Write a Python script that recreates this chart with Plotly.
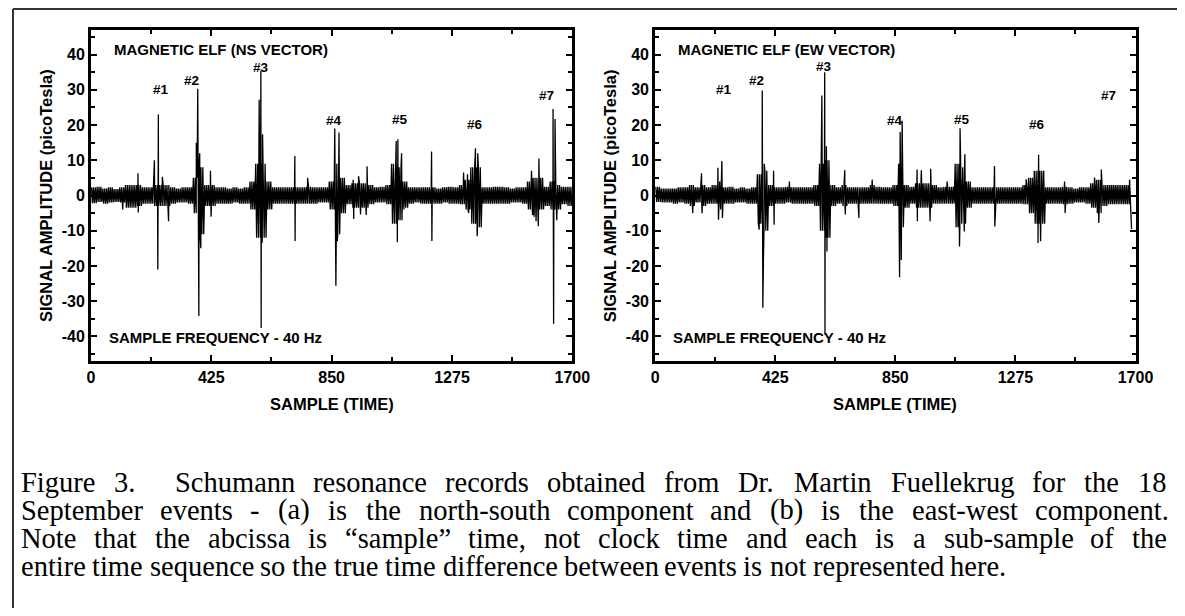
import plotly.graph_objects as go

# page pixel -> figure pixel calibration (body margin plus the observed horizontal scale)
OFFX, OFFY = 8.9, 8
SCALE_X = 0.983
W, H = 1196, 600

# ---------------- data ----------------
BIN = 20  # samples per envelope bin (background noise band)

ns_hi = [2.3, 2.5, 2, 2.3, 1.8, 2.3, 3, 3, 3, 2.3,
         2.3, 3, 3, 3, 2.3, 2, 2.3, 2.3, 5, 8,
         3, 3, 2.3, 2.3, 2, 2.3, 2, 2.3, 4, 9,
         9, 4, 2.3, 2.3, 2.3, 2.3, 2.3, 2.3, 2.5, 2.3,
         2.3, 2.3, 4, 9, 5, 3, 3.5, 3.5, 3.5, 3,
         2.3, 2.5, 3, 9, 8, 4, 2.3, 2.3, 2.3, 2.3,
         2.3, 2, 2.3, 2.5, 2.3, 3, 4.5, 8, 8, 2.3,
         2.3, 2.5, 2.5, 2.3, 2, 2.3, 2.3, 4, 5, 5,
         2.5, 4, 3, 2.5, 2.5]
ns_lo = [-2.2, -1.8, -2.3, -2, -1.8, -2, -3.5, -3.5, -3, -2.3,
         -2.3, -3, -3, -3, -2.3, -2, -2, -2.3, -5, -11,
         -3, -3, -2.3, -2.3, -2.3, -2, -2.3, -2.3, -4, -12,
         -12, -4, -2.3, -2.3, -2.3, -2.3, -2.3, -2.3, -2.3, -2.3,
         -2, -2, -4, -11, -5, -2.5, -3.5, -3.5, -3.5, -2.5,
         -2, -2, -2.5, -8, -7, -3.5, -2.3, -2, -2.3, -2.3,
         -2.3, -2.3, -2, -2.3, -2.3, -2.5, -4, -8, -9, -2.3,
         -2.3, -2.3, -2.3, -2.3, -2, -2, -2.3, -4, -6, -4,
         -3, -4, -4, -2.5, -3]
ns_spike_x = [112, 166, 167, 224, 236, 238, 252, 274, 372, 377, 379, 381, 384, 388,
              422, 424, 594, 600, 601, 604, 606, 720, 721, 765,
              861, 865, 870, 876, 926, 928, 945, 952, 972, 975,
              1078, 1082, 1084, 1097, 1105, 1203, 1204,
              1316, 1330, 1334, 1358, 1364, 1366,
              1556, 1560, 1572, 1580, 1582, 1632, 1634, 1639, 1645]
ns_spike_y = [-4, 6.3, -4.8, 10, -21, 23, 5.3, -7.3, 15, 30.3, -17, -34.2, 12, -15,
              7, -6, 27.2, 35.5, -37.6, -13.5, 17.4, 11.2, -12.9, 5,
              19, -25.6, -13, 17.9, 4.5, -6.7, 5.5, -5.4, -5.5, 8.3,
              15.5, -13.3, 16, 12, -4, 12.5, -12.9,
              6.5, 6, -5, 13.4, -11.6, 12,
              7, -5.5, -7.3, -8.7, 10.5, 24.6, -36.4, 21.7, -7]

ew_hi = [2.5, 2, 2, 2, 2.3, 2.3, 3, 2.3, 3, 2.3,
         3, 4, 2.3, 2.5, 2, 2.3, 2, 2.3, 6, 7,
         3, 2.3, 2.3, 2.5, 2.3, 2.3, 2.3, 2.3, 3, 9,
         10, 3, 2.3, 3, 2.3, 2.3, 2.3, 2.3, 3, 2.5,
         2.3, 2.3, 3, 9, 3, 2.5, 3.5, 3.5, 3.5, 3,
         2.3, 2.5, 2.5, 9, 8, 4, 2.3, 2.3, 2.3, 2.3,
         2.3, 2.3, 2.3, 2.3, 2.3, 3, 5, 7, 7, 2.3,
         2.3, 2.3, 2.5, 2.3, 2, 2.3, 2.3, 3.5, 4.5, 3,
         3, 3, 3, 3]
ew_lo = [-1.8, -2, -2, -2.3, -2, -2.3, -3, -2, -3, -2.3,
         -2.3, -4, -2.3, -2.3, -2, -2, -2.3, -2.3, -8, -10,
         -3, -2.3, -2.3, -2, -2.3, -2.3, -2.3, -2.3, -3, -10,
         -12, -3, -2.3, -3, -2.3, -2.3, -2.3, -2.3, -2.3, -2.3,
         -2.3, -2.3, -3, -9, -3.5, -2.3, -3.5, -3.5, -3.5, -2.3,
         -2.3, -2.3, -2.3, -9, -8, -3.5, -2.3, -2.3, -2.3, -2.3,
         -2.3, -2.3, -2.3, -2.3, -2.3, -2.5, -5, -8, -8, -2.3,
         -2.3, -2.3, -2.5, -2.3, -2, -2, -2.3, -3.5, -5, -3,
         -2.5, -2.5, -2.5, -2.5]
ew_spike_x = [133, 164, 166, 222, 224, 236, 238, 368, 379, 381, 383, 386,
              419, 421, 475, 590, 600, 601, 606, 608, 671, 673, 721, 768,
              865, 867, 871, 874, 927, 928, 942, 973, 975, 1033,
              1077, 1079, 1094, 1096, 1201, 1202, 1313, 1355, 1357, 1364,
              1449, 1451, 1555, 1570, 1579, 1679, 1686]
ew_spike_y = [-5, 6.3, -5, 7.9, -6.9, 9.8, -6.4, -9.7, 29.8, -31.9, -18.8, 9,
              7, -8.3, 4, 28.4, 35, -39.5, 14, -15.9, 7.2, -5.4, -6.4, 4.5,
              -23.2, 18, -18.3, 21.2, 7.4, -7.3, 7.2, -7.3, 7.6, 4,
              -14.5, 19.1, -10.2, 11.7, 8.4, -8.8, 4.6, -13.5, 11.6, -13,
              4, -5, 5.1, -7.8, 7.4, 4.5, -9.5]

event_labels = ["#1", "#2", "#3", "#4", "#5", "#6", "#7"]
ns_label_x = [246, 356, 602, 858, 1091, 1356, 1610]
ns_label_y = [30, 32.6, 36.4, 21.2, 21.6, 20.3, 28.4]
ew_label_x = [245, 357, 599, 850, 1087, 1352, 1603]
ew_label_y = [30.2, 32.6, 36.6, 21.2, 21.6, 20.3, 28.4]

x_tick_vals = [0, 425, 850, 1275, 1700]
x_tick_text = ["0", "425", "850", "1275", "1700"]
y_tick_vals = [-40, -30, -20, -10, 0, 10, 20, 30, 40]
y_tick_text = ["-40", "-30", "-20", "-10", "0", "10", "20", "30", "40"]

caption_lines = [
    "Figure 3.  Schumann resonance records obtained from Dr. Martin Fuellekrug for the 18",
    "September events - (a) is the north-south component and (b) is the east-west component.",
    "Note that the abcissa is \u201csample\u201d time, not clock time and each is a sub-sample of the",
    "entire time sequence so the true time difference between events is not represented here.",
]
caption_right = [1165, 1165, 1165, 1003]   # right end of each caption line (page px)

# Times / Liberation Serif advance widths (1/1000 em) for laying out the caption words
TIMES_W = {' ': 250, '.': 250, ',': 250, '-': 333, '(': 333, ')': 333, '\u201c': 444, '\u201d': 444,
           '0': 500, '1': 500, '2': 500, '3': 500, '4': 500, '5': 500, '6': 500, '7': 500,
           '8': 500, '9': 500,
           'A': 722, 'B': 667, 'C': 667, 'D': 722, 'E': 611, 'F': 556, 'G': 722, 'H': 722,
           'I': 333, 'J': 389, 'K': 722, 'L': 611, 'M': 889, 'N': 722, 'O': 722, 'P': 556,
           'Q': 722, 'R': 667, 'S': 556, 'T': 611, 'U': 722, 'V': 722, 'W': 944, 'X': 722,
           'Y': 722, 'Z': 611,
           'a': 444, 'b': 500, 'c': 444, 'd': 500, 'e': 444, 'f': 333, 'g': 500, 'h': 500,
           'i': 278, 'j': 278, 'k': 500, 'l': 278, 'm': 778, 'n': 500, 'o': 500, 'p': 500,
           'q': 500, 'r': 333, 's': 389, 't': 278, 'u': 500, 'v': 500, 'w': 722, 'x': 500,
           'y': 500, 'z': 444}


def text_w(s, size):
    return sum(TIMES_W.get(c, 500) for c in s) * size / 1000.0 * SCALE_X


def build(hi, lo, sx, sy):
    """Dense oscillation between the read envelope values, with the read spikes merged in."""
    pts = []
    for i, (h, l) in enumerate(zip(hi, lo)):
        base = i * BIN
        for j in range(6):
            pts.append((base + BIN * (j + 0.5) / 6, h if j % 2 == 0 else l))
    pts += list(zip(sx, sy))
    pts.sort(key=lambda p: p[0])
    return [p[0] for p in pts], [p[1] for p in pts]


def PX(x):
    return ((x - OFFX) / SCALE_X) / W


def PY(y):
    return 1 - (y - OFFY) / H


SANS = "Liberation Sans, Arial, sans-serif"
SERIF = "Liberation Serif, Times New Roman, serif"

fig = go.Figure()
nx, ny = build(ns_hi, ns_lo, ns_spike_x, ns_spike_y)
ex, ey = build(ew_hi, ew_lo, ew_spike_x, ew_spike_y)
fig.add_trace(go.Scatter(x=nx, y=ny, mode="lines", line=dict(color="black", width=1.3),
                         xaxis="x", yaxis="y", showlegend=False, hoverinfo="skip"))
fig.add_trace(go.Scatter(x=ex, y=ey, mode="lines", line=dict(color="black", width=1.3),
                         xaxis="x2", yaxis="y2", showlegend=False, hoverinfo="skip"))

panels = [(88, 570), (653, 1134)]
top_px, bot_px = 30, 361

tickfont = dict(family=SANS, size=16, color="black", weight="bold")
common_x = dict(range=[0, 1700], tickmode="array", tickvals=x_tick_vals, ticktext=x_tick_text,
                ticks="inside", ticklen=6, tickwidth=2, tickcolor="black",
                showline=True, linewidth=3, linecolor="black", mirror="allticks",
                showgrid=False, zeroline=False, tickfont=tickfont,
                minor=dict(tickvals=[212.5, 637.5, 1062.5, 1487.5], ticks="inside",
                           ticklen=4, tickwidth=1.5, tickcolor="black"))
common_y = dict(range=[-47, 47], tickmode="array", tickvals=y_tick_vals, ticktext=y_tick_text,
                ticks="inside", ticklen=6, tickwidth=2, tickcolor="black",
                showline=True, linewidth=3, linecolor="black", mirror="allticks",
                showgrid=False, zeroline=False, tickfont=tickfont,
                minor=dict(tickvals=[-45, -35, -25, -15, -5, 5, 15, 25, 35, 45],
                           ticks="inside", ticklen=4, tickwidth=1.5, tickcolor="black"))

fig.update_layout(
    width=W, height=H, margin=dict(l=0, r=0, t=0, b=0),
    paper_bgcolor="white", plot_bgcolor="white", showlegend=False,
    xaxis=dict(domain=[PX(panels[0][0]), PX(panels[0][1])], anchor="y", **common_x),
    yaxis=dict(domain=[PY(bot_px), PY(top_px)], anchor="x", **common_y),
    xaxis2=dict(domain=[PX(panels[1][0]), PX(panels[1][1])], anchor="y2", **common_x),
    yaxis2=dict(domain=[PY(bot_px), PY(top_px)], anchor="x2", **common_y),
)

ann = []
bold = dict(family=SANS, color="black", weight="bold")
for k, (xa, ya, title, lx, ly) in enumerate([
        ("x", "y", "MAGNETIC ELF (NS VECTOR)", ns_label_x, ns_label_y),
        ("x2", "y2", "MAGNETIC ELF (EW VECTOR)", ew_label_x, ew_label_y)]):
    left, right = panels[k]
    ann.append(dict(xref=xa, yref=ya, x=81, y=41.5, text=title, showarrow=False,
                    xanchor="left", yanchor="middle", borderpad=0, borderwidth=0,
                    font=dict(size=15, **bold)))
    ann.append(dict(xref=xa, yref=ya, x=64, y=-40.3, text="SAMPLE FREQUENCY - 40 Hz",
                    showarrow=False, xanchor="left", yanchor="middle", borderpad=0,
                    borderwidth=0, font=dict(size=15, **bold)))
    for t, xv, yv in zip(event_labels, lx, ly):
        ann.append(dict(xref=xa, yref=ya, x=xv, y=yv, text=t, showarrow=False,
                        xanchor="center", yanchor="middle", borderpad=0, borderwidth=0,
                        font=dict(size=13.5, **bold)))
    ann.append(dict(xref="paper", yref="paper", x=PX((left + right) / 2), y=PY(404),
                    text="SAMPLE (TIME)", showarrow=False, xanchor="center",
                    yanchor="middle", font=dict(size=16.5, **bold)))
    ann.append(dict(xref="paper", yref="paper", x=PX(left - 45), y=PY(196),
                    text="SIGNAL AMPLITUDE (picoTesla)", textangle=-90, showarrow=False,
                    xanchor="center", yanchor="middle", font=dict(size=16.5, **bold)))

# caption: every line is laid out word by word between its left and right ends
CAP_SIZE = 28.5
cap_left = 18
cap_y = [482, 510, 538, 566]
for line, r_end, yc in zip(caption_lines, caption_right, cap_y):
    words = line.split(" ")
    widths = [text_w(w, CAP_SIZE) for w in words]
    gap = (r_end - cap_left - sum(widths)) / (len(words) - 1)
    x = cap_left
    for w, wd in zip(words, widths):
        if w:
            ann.append(dict(xref="paper", yref="paper", x=PX(x), y=PY(yc), text=w,
                            showarrow=False, xanchor="left", yanchor="middle",
                            borderpad=0, borderwidth=0,
                            font=dict(family=SERIF, size=CAP_SIZE, color="black")))
        x += wd + gap

fig.update_layout(annotations=ann)

# outer page box (left and top edges)
fig.add_shape(type="line", xref="paper", yref="paper", x0=1 / W, x1=1 / W, y0=0, y1=1 - 1 / H,
              line=dict(color="#333333", width=2))
fig.add_shape(type="line", xref="paper", yref="paper", x0=1 / W, x1=1, y0=1 - 1 / H, y1=1 - 1 / H,
              line=dict(color="#333333", width=2))

fig.write_html("out.html")
